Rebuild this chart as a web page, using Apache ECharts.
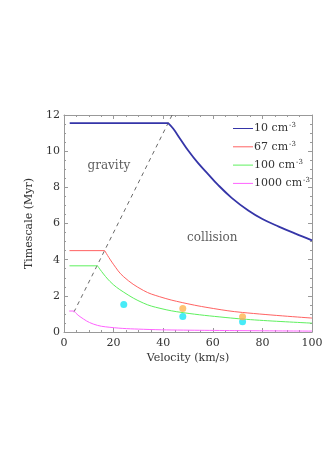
<!DOCTYPE html>
<html><head><meta charset="utf-8">
<script src="https://cdn.jsdelivr.net/npm/echarts@6/dist/echarts.min.js"></script>
<style>html,body{margin:0;padding:0;background:#fff}#c{width:331px;height:468px}</style>
</head><body><div id="c"></div>
<script>
// ---- data ----
var blueV = [2.3, 42, 44, 47, 50, 54, 58, 62, 67.6, 74.3, 80, 86.6, 93.3, 100];
var blueT = [11.55, 11.55, 11.25, 10.65, 10.05, 9.35, 8.75, 8.15, 7.42, 6.72, 6.25, 5.83, 5.44, 5.07];
var redV = [2.2, 16.4, 19.9, 24.1, 32, 38.6, 47.9, 60.2, 72, 100];
var redT = [4.5, 4.5, 3.75, 3.05, 2.3, 1.95, 1.62, 1.3, 1.08, 0.77];
var greenV = [2.2, 13.5, 18.5, 24.1, 32, 38.7, 48, 65.3, 78.8, 100];
var greenT = [3.66, 3.66, 2.8, 2.2, 1.6, 1.31, 1.07, 0.8, 0.65, 0.49];
var magV = [2.1, 4.0, 6.45, 11.8, 18.5, 32, 50.8, 100];
var magT = [1.16, 1.16, 0.85, 0.44, 0.26, 0.15, 0.1, 0.05];
var dashV = [4.0, 43.6];
var dashT = [1.1, 12];
var cyanV = [24.1, 47.9, 72];
var cyanT = [1.52, 0.86, 0.56];
var orangeV = [47.9, 72];
var orangeT = [1.3, 0.85];
var seriesNames = ['10 cm-3', '67 cm-3', '100 cm-3', '1000 cm-3'];
var xTicks = [0, 20, 40, 60, 80, 100];
var yTicks = [0, 2, 4, 6, 8, 10, 12];
var labels = [{text: 'gravity', v: 18.1, t: 9.17}, {text: 'collision', v: 59.8, t: 5.2}];

function pairs(a, b) { return a.map(function (v, i) { return [v, b[i]]; }); }

var FONT = 'DejaVu Serif';
var TXT = '#333';
var AX = '#999';

function xAx(pos, show) {
  return {
    type: 'value', position: pos, min: xTicks[0], max: xTicks[xTicks.length - 1], interval: xTicks[1] - xTicks[0],
    axisLine: {show: true, onZero: false, lineStyle: {color: AX, width: 1}},
    axisTick: {show: true, inside: true, length: 4, lineStyle: {color: AX}},
    minorTick: {show: true, splitNumber: 4, length: 2, lineStyle: {color: AX}},
    splitLine: {show: false},
    axisLabel: {show: show, fontFamily: FONT, fontSize: 11, color: TXT, margin: 6},
    name: show ? 'Velocity (km/s)' : '', nameLocation: 'middle', nameGap: 21,
    nameTextStyle: {fontFamily: FONT, fontSize: 11, color: TXT}
  };
}
function yAx(pos, show) {
  return {
    type: 'value', position: pos, min: yTicks[0], max: yTicks[yTicks.length - 1], interval: yTicks[1] - yTicks[0],
    axisLine: {show: true, onZero: false, lineStyle: {color: AX, width: 1}},
    axisTick: {show: true, inside: true, length: 4, lineStyle: {color: AX}},
    minorTick: {show: true, splitNumber: 4, length: 2, lineStyle: {color: AX}},
    splitLine: {show: false},
    axisLabel: {show: show, fontFamily: FONT, fontSize: 11, color: TXT, margin: 4},
    name: show ? 'Timescale (Myr)' : '', nameLocation: 'middle', nameGap: 21,
    nameTextStyle: {fontFamily: FONT, fontSize: 11, color: TXT}
  };
}

var colors = ['#3535a8', '#ff6262', '#5ef05e', '#ff62ff'];
function curve(name, v, t, color, w) {
  var d = pairs(v, t);
  return [
    {name: name, type: 'line', data: d.slice(0, 2), showSymbol: false, symbol: 'none',
      lineStyle: {color: color, width: w}, itemStyle: {color: color}, z: 3, silent: true},
    {name: name, type: 'line', data: d.slice(1), showSymbol: false, symbol: 'none', smooth: 0.4,
      lineStyle: {color: color, width: w}, itemStyle: {color: color}, z: 3, silent: true}
  ];
}

var series = [].concat(
  curve(seriesNames[0], blueV, blueT, colors[0], 1.8),
  curve(seriesNames[1], redV, redT, colors[1], 1),
  curve(seriesNames[2], greenV, greenT, colors[2], 1),
  curve(seriesNames[3], magV, magT, colors[3], 1),
  [
    {type: 'line', data: pairs(dashV, dashT), showSymbol: false, symbol: 'none',
      lineStyle: {color: '#444', width: 0.8, type: [4, 4]}, z: 2, silent: true},
    {type: 'scatter', data: pairs(cyanV, cyanT), symbolSize: 7, itemStyle: {color: '#19e6f5'}, z: 4},
    {type: 'scatter', data: pairs(orangeV, orangeT), symbolSize: 7, itemStyle: {color: '#ffb450'}, z: 4},
    {type: 'scatter', symbolSize: 0, silent: true,
      data: labels.map(function (l) { return {value: [l.v, l.t], name: l.text}; }),
      label: {show: true, position: 'inside', formatter: '{b}', fontFamily: FONT, fontSize: 12, color: TXT}}
  ]
);

var chart = echarts.init(document.getElementById('c'), null, {renderer: 'canvas'});
chart.setOption({
  backgroundColor: '#fff',
  animation: false,
  grid: {left: 64, right: 19, top: 115, bottom: 136},
  xAxis: [xAx('bottom', true), xAx('top', false)],
  yAxis: [yAx('left', true), yAx('right', false)],
  legend: {
    data: seriesNames, orient: 'vertical', left: 233, top: 122, padding: 0, itemGap: 6.3,
    itemWidth: 20, itemHeight: 12, icon: 'path://M0,5.5 L20,5.5 L20,6.5 L0,6.5 Z',
    formatter: function (n) { return n.replace('-3', '') + '{s|-3}'; },
    textStyle: {fontFamily: FONT, fontSize: 11, color: TXT, padding: [0, 0, 0, -4],
      rich: {s: {fontFamily: FONT, fontSize: 7, color: TXT, verticalAlign: 'top', padding: [0, 0, 6, 1]}}}
  },
  series: series
});
</script></body></html>
